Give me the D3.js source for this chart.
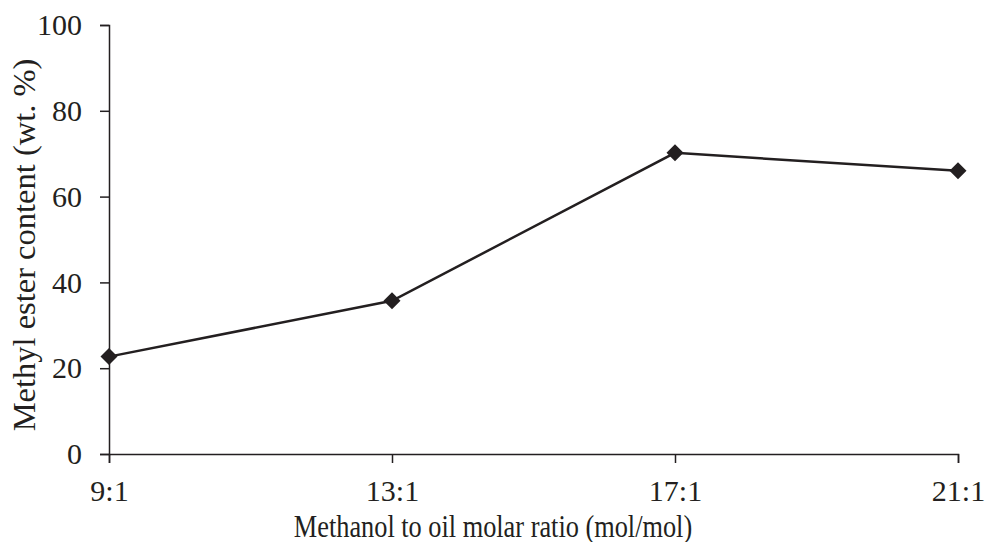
<!doctype html>
<html>
  <head>
    <script src="https://cdnjs.cloudflare.com/ajax/libs/d3/7.8.5/d3.min.js"></script>
    <meta charset="UTF-8">
    <style>
      body { margin: 0; background: #fff; }
      text { font-family: "Liberation Serif", "Times New Roman", serif; fill: #231f20; }
    </style>
  </head>
  <body>
    <div id="graphic"></div>
    <script>

// data
var ratios = ["9:1", "13:1", "17:1", "21:1"];
var esterContent = [22.7, 35.7, 70.2, 66.0];
var yTicks = [0, 20, 40, 60, 80, 100];

var margin = {top: 25, right: 27, bottom: 88, left: 109};
var width = 985 - margin.left - margin.right,
    height = 542 - margin.top - margin.bottom;

var svg = d3.select("#graphic").append("svg")
  .attr("width", 985)
  .attr("height", 542)
  .append("g")
  .attr("transform", "translate(" + margin.left + "," + margin.top + ")");

var xScale = d3.scalePoint().domain(ratios).range([0, width]);
var yScale = d3.scaleLinear().domain([0, 100]).range([height, 0]);

// axes
var xAxis = svg.append("g")
  .attr("transform", "translate(0," + height + ")")
  .call(d3.axisBottom(xScale).tickSizeOuter(0).tickSize(9).tickPadding(17));

var yAxis = svg.append("g")
  .call(d3.axisLeft(yScale).tickValues(yTicks).tickSizeOuter(0).tickSize(9).tickPadding(18));

[xAxis, yAxis].forEach(function(a) {
  a.select(".domain").attr("stroke", "#231f20").attr("stroke-width", 1.5);
  a.selectAll(".tick line").attr("stroke", "#231f20").attr("stroke-width", 1.5);
  a.selectAll(".tick text")
    .style("font-family", "'Liberation Serif', serif")
    .style("font-size", "30px")
    .attr("fill", "#231f20");
});

// line
var line = d3.line()
  .x(function(d, i) { return xScale(ratios[i]); })
  .y(function(d) { return yScale(d); });

svg.append("path")
  .datum(esterContent)
  .attr("fill", "none")
  .attr("stroke", "#231f20")
  .attr("stroke-width", 2.5)
  .attr("d", line);

// diamond markers
svg.append("g")
  .selectAll("path")
  .data(esterContent)
  .enter()
  .append("path")
    .attr("d", "M0,-8.5L8.5,0L0,8.5L-8.5,0Z")
    .attr("transform", function(d, i) { return "translate(" + xScale(ratios[i]) + "," + yScale(d) + ")"; })
    .attr("fill", "#231f20");

// x label (narrow glyphs, as in the reference)
svg.append("text")
  .attr("text-anchor", "middle")
  .attr("transform", "translate(" + (493 - margin.left) + "," + (536.5 - margin.top) + ")scale(0.81,1)")
  .style("font-size", "32.5px")
  .text("Methanol to oil molar ratio (mol/mol)");

// y label
svg.append("text")
  .attr("text-anchor", "middle")
  .attr("transform", "translate(" + (34.5 - margin.left) + "," + (245 - margin.top) + ")rotate(-90)")
  .style("font-size", "32.5px")
  .text("Methyl ester content (wt. %)");

    </script>
  </body>
</html>
